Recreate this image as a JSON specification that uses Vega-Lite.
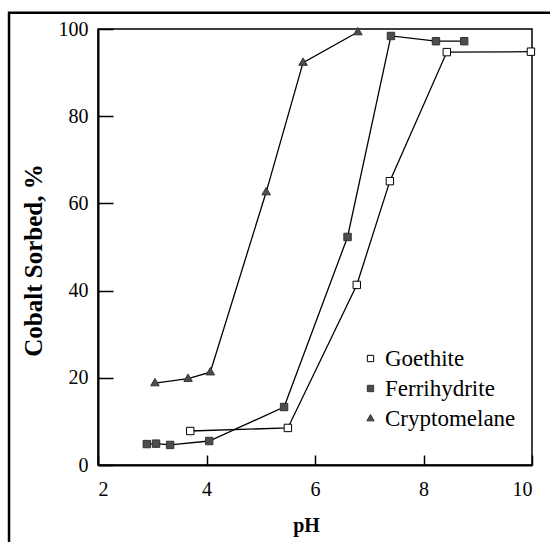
{
  "$schema": "https://vega.github.io/schema/vega-lite/v6.json",
  "width": 434,
  "height": 436,
  "autosize": {"type": "none"},
  "padding": {"left": 98, "top": 29, "right": 18, "bottom": 77},
  "background": "white",
  "config": {
    "font": "Liberation Serif",
    "view": {"stroke": "black", "strokeWidth": 1.5},
    "axis": {
      "grid": false,
      "domainColor": "black",
      "domainWidth": 2,
      "tickColor": "black",
      "tickWidth": 1.5,
      "labelColor": "black",
      "titleColor": "black",
      "labelFont": "Liberation Serif",
      "titleFont": "Liberation Serif",
      "labelFontSize": 20,
      "titleFontWeight": "bold"
    },
    "legend": {
      "labelFont": "Liberation Serif",
      "labelFontSize": 23,
      "labelColor": "black"
    }
  },
  "data": {
    "values": [
      {"mineral": "Goethite", "pH": 3.7, "sorbed": 7.8},
      {"mineral": "Goethite", "pH": 5.5, "sorbed": 8.5},
      {"mineral": "Goethite", "pH": 6.77, "sorbed": 41.3},
      {"mineral": "Goethite", "pH": 7.38, "sorbed": 65.1},
      {"mineral": "Goethite", "pH": 8.43, "sorbed": 94.7},
      {"mineral": "Goethite", "pH": 9.98, "sorbed": 94.8},
      {"mineral": "Ferrihydrite", "pH": 2.9, "sorbed": 4.8},
      {"mineral": "Ferrihydrite", "pH": 3.07, "sorbed": 4.9},
      {"mineral": "Ferrihydrite", "pH": 3.33, "sorbed": 4.6},
      {"mineral": "Ferrihydrite", "pH": 4.05, "sorbed": 5.5},
      {"mineral": "Ferrihydrite", "pH": 5.43, "sorbed": 13.3},
      {"mineral": "Ferrihydrite", "pH": 6.6, "sorbed": 52.3},
      {"mineral": "Ferrihydrite", "pH": 7.4, "sorbed": 98.4},
      {"mineral": "Ferrihydrite", "pH": 8.23, "sorbed": 97.2},
      {"mineral": "Ferrihydrite", "pH": 8.75, "sorbed": 97.2},
      {"mineral": "Cryptomelane", "pH": 3.05, "sorbed": 18.8},
      {"mineral": "Cryptomelane", "pH": 3.66, "sorbed": 19.8},
      {"mineral": "Cryptomelane", "pH": 4.07, "sorbed": 21.3},
      {"mineral": "Cryptomelane", "pH": 5.1, "sorbed": 62.6},
      {"mineral": "Cryptomelane", "pH": 5.78, "sorbed": 92.3},
      {"mineral": "Cryptomelane", "pH": 6.79, "sorbed": 99.3}
    ]
  },
  "layer": [
    {
      "data": {"values": [{}]},
      "mark": {"type": "rect", "fill": null, "stroke": "black", "strokeWidth": 2.5, "clip": false},
      "encoding": {
        "x": {"datum": 0.36, "type": "quantitative", "scale": {"domain": [2, 10], "nice": false, "zero": false}},
        "x2": {"datum": 11},
        "y": {"datum": 103.7, "type": "quantitative", "scale": {"domain": [0, 100], "nice": false}},
        "y2": {"datum": -25}
      }
    },
    {
      "mark": {"type": "line", "color": "black", "strokeWidth": 1.3},
      "encoding": {
        "x": {
          "field": "pH", "type": "quantitative",
          "scale": {"domain": [2, 10], "nice": false, "zero": false},
          "axis": {
            "values": [2, 4, 6, 8, 10],
            "tickSize": -10,
            "labelPadding": 24,
            "labelBaseline": "top",
            "title": "pH",
            "titleFontSize": 20,
            "titleX": 208,
            "titleY": 66,
            "titleAlign": "center",
            "titleBaseline": "alphabetic"
          }
        },
        "y": {
          "field": "sorbed", "type": "quantitative",
          "scale": {"domain": [0, 100], "nice": false},
          "axis": {
            "values": [0, 20, 40, 60, 80, 100],
            "tickSize": -15,
            "labelPadding": 25,
            "title": "Cobalt Sorbed, %",
            "titleFontSize": 25,
            "titleAngle": 270,
            "titleX": -57,
            "titleY": 231,
            "titleAlign": "center",
            "titleBaseline": "alphabetic"
          }
        },
        "detail": {"field": "mineral"},
        "order": {"field": "pH", "type": "quantitative"}
      }
    },
    {
      "mark": {"type": "point", "filled": true, "opacity": 1, "size": 55, "strokeWidth": 1},
      "encoding": {
        "x": {"field": "pH", "type": "quantitative", "scale": {"domain": [2, 10], "nice": false, "zero": false}},
        "y": {"field": "sorbed", "type": "quantitative", "scale": {"domain": [0, 100], "nice": false}},
        "shape": {
          "field": "mineral", "type": "nominal",
          "scale": {
            "domain": ["Goethite", "Ferrihydrite", "Cryptomelane"],
            "range": ["square", "square", "M0,-1.25L1.15,0.75L-1.15,0.75Z"]
          },
          "legend": {
            "title": null,
            "orient": "none",
            "legendX": 261,
            "legendY": 318,
            "symbolSize": 40,
            "symbolStrokeWidth": 1,
            "rowPadding": 6,
            "labelOffset": 3,
            "labelFont": "Liberation Serif",
            "labelFontSize": 23,
            "encode": {"labels": {"update": {"font": {"value": "Liberation Serif"}, "fontSize": {"value": 23}}}}
          }
        },
        "fill": {
          "field": "mineral", "type": "nominal",
          "scale": {"domain": ["Goethite", "Ferrihydrite", "Cryptomelane"], "range": ["white", "#4d4d4d", "#4d4d4d"]},
          "legend": {
            "title": null,
            "orient": "none",
            "legendX": 261,
            "legendY": 318,
            "symbolSize": 40,
            "symbolStrokeWidth": 1,
            "rowPadding": 6,
            "labelOffset": 3,
            "labelFont": "Liberation Serif",
            "labelFontSize": 23,
            "encode": {"labels": {"update": {"font": {"value": "Liberation Serif"}, "fontSize": {"value": 23}}}}
          }
        },
        "stroke": {
          "field": "mineral", "type": "nominal",
          "scale": {"domain": ["Goethite", "Ferrihydrite", "Cryptomelane"], "range": ["black", "#333333", "#333333"]},
          "legend": {
            "title": null,
            "orient": "none",
            "legendX": 261,
            "legendY": 318,
            "symbolSize": 40,
            "symbolStrokeWidth": 1,
            "rowPadding": 6,
            "labelOffset": 3,
            "labelFont": "Liberation Serif",
            "labelFontSize": 23,
            "encode": {"labels": {"update": {"font": {"value": "Liberation Serif"}, "fontSize": {"value": 23}}}}
          }
        }
      }
    }
  ]
}
